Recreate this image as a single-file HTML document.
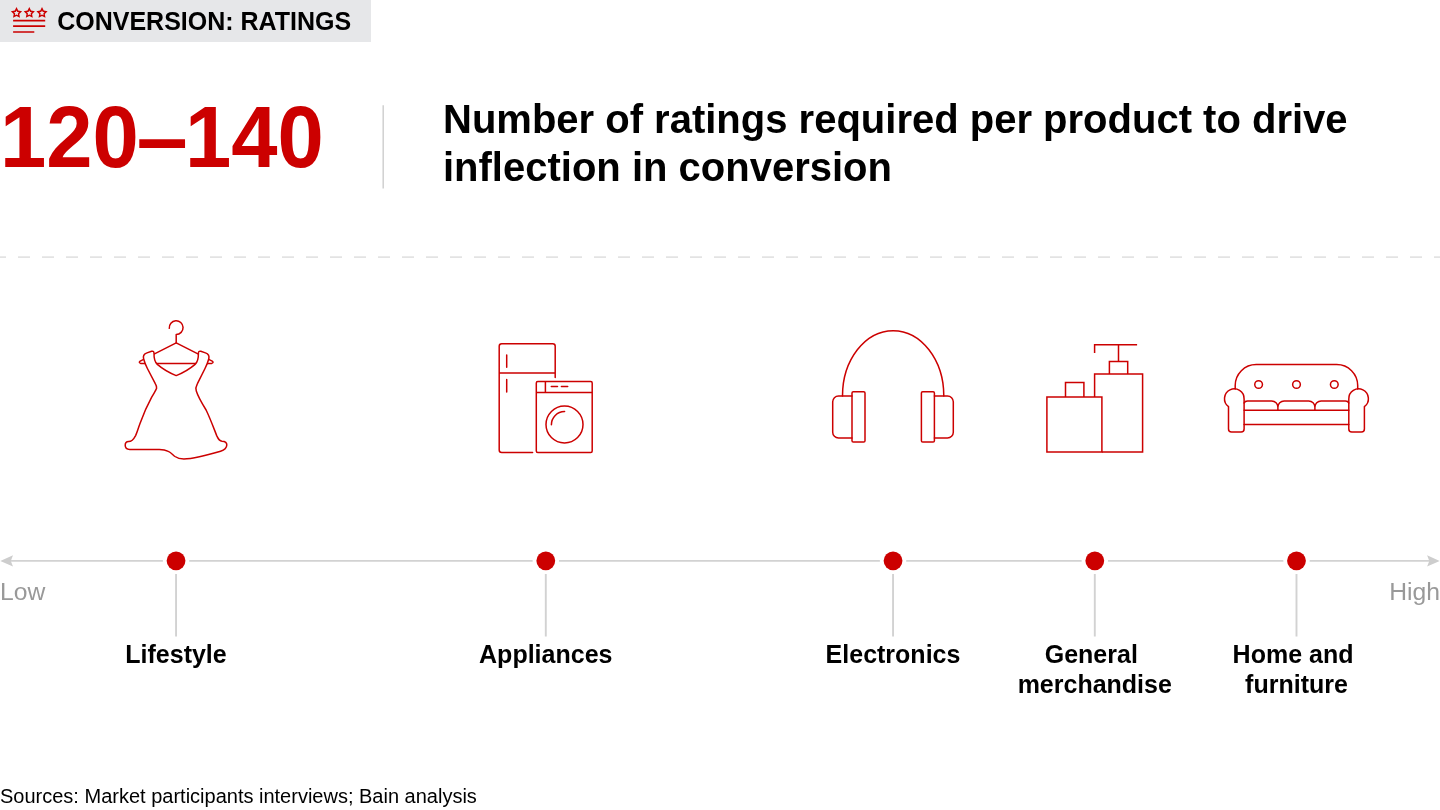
<!DOCTYPE html>
<html lang="en">
<head>
<meta charset="utf-8">
<title>Conversion: Ratings</title>
<style>
html,body{margin:0;padding:0;background:#fff;}
body{width:1440px;height:810px;position:relative;overflow:hidden;font-family:"Liberation Sans",sans-serif;color:#000;}
.abs{position:absolute;white-space:nowrap;}
#tag{left:0;top:0;width:370.8px;height:41.7px;background:#e6e7e9;}
#tagtxt{left:57.2px;top:6px;font-size:25px;line-height:30px;font-weight:bold;transform:scaleY(1.04);transform-origin:0 23.8px;}
#big{left:0px;top:90px;font-size:83.2px;line-height:98px;font-weight:bold;color:#cc0000;transform:scaleY(1.04);transform-origin:0 79.2px;}
.title{left:443px;font-size:40px;line-height:48px;font-weight:bold;}
#big .dash{display:inline-block;transform:scaleX(1.11);}
.lab{font-size:25px;line-height:30px;font-weight:bold;text-align:center;transform:translateX(-50%);white-space:pre;}
.ax{font-size:24.7px;line-height:28px;color:#999;}
#src{left:0;top:784.1px;font-size:20px;line-height:24px;}
svg{position:absolute;left:0;top:0;}
</style>
</head>
<body>
<div id="tag" class="abs"></div>
<div id="tagtxt" class="abs">CONVERSION: RATINGS</div>
<div id="big" class="abs">120<span class="dash">–</span>140</div>
<div class="abs title" style="top:94.9px;">Number of ratings required per product to drive</div>
<div class="abs title" style="top:142.8px;">inflection in conversion</div>

<svg width="1440" height="810" viewBox="0 0 1440 810">
  <!-- tag icon -->
  <g id="flag">
    <path fill="#cc0000" fill-rule="evenodd" d="M16.50 7.10 L18.23 10.61 L22.11 11.18 L19.31 13.91 L19.97 17.77 L16.50 15.95 L13.03 17.77 L13.69 13.91 L10.89 11.18 L14.77 10.61 Z M15.71 12.01 L13.93 12.27 L15.22 13.52 L14.91 15.28 L16.50 14.45 L18.09 15.28 L17.78 13.52 L19.07 12.27 L17.29 12.01 L16.50 10.40 Z M29.30 7.10 L31.03 10.61 L34.91 11.18 L32.11 13.91 L32.77 17.77 L29.30 15.95 L25.83 17.77 L26.49 13.91 L23.69 11.18 L27.57 10.61 Z M28.51 12.01 L26.73 12.27 L28.02 13.52 L27.71 15.28 L29.30 14.45 L30.89 15.28 L30.58 13.52 L31.87 12.27 L30.09 12.01 L29.30 10.40 Z M42.00 7.10 L43.73 10.61 L47.61 11.18 L44.81 13.91 L45.47 17.77 L42.00 15.95 L38.53 17.77 L39.19 13.91 L36.39 11.18 L40.27 10.61 Z M41.21 12.01 L39.43 12.27 L40.72 13.52 L40.41 15.28 L42.00 14.45 L43.59 15.28 L43.28 13.52 L44.57 12.27 L42.79 12.01 L42.00 10.40 Z"/>
    <path fill="none" stroke="#cc0000" stroke-width="1.65" d="M13.1 20.6 H45.2 M13.1 26.1 H45.2 M13.1 32 H34.3"/>
  </g>
  <!-- divider lines -->
  <line x1="383.2" y1="105.3" x2="383.2" y2="188.6" stroke="#d0d0d0" stroke-width="1.5"/>
  <line x1="0" y1="257.1" x2="1440" y2="257.1" stroke="#e3e3e3" stroke-width="1.9" stroke-dasharray="12 12" stroke-dashoffset="6"/>
  <!-- axis -->
  <g stroke="#d2d2d2" stroke-width="1.9" fill="none">
    <line x1="8" y1="560.9" x2="1432" y2="560.9"/>
    <path d="M176.05 574 V636.4 M545.8 574 V636.4 M893.05 574 V636.4 M1094.8 574 V636.4 M1296.5 574 V636.4"/>
  </g>
  <g fill="#cdcdcd">
    <path d="M0.3 560.9 L13 555.3 L10.8 560.9 L13 566.5 Z"/>
    <path d="M1439.7 560.9 L1427.1 555.3 L1429.3 560.9 L1427.1 566.5 Z"/>
  </g>
  <g fill="#fff">
    <circle cx="176.05" cy="560.8" r="13.2"/>
    <circle cx="545.8" cy="560.8" r="13.2"/>
    <circle cx="893.05" cy="560.8" r="13.2"/>
    <circle cx="1094.8" cy="560.8" r="13.2"/>
    <circle cx="1296.5" cy="560.8" r="13.2"/>
  </g>
  <g fill="#cc0000">
    <circle cx="176.05" cy="560.8" r="9.4"/>
    <circle cx="545.8" cy="560.8" r="9.4"/>
    <circle cx="893.05" cy="560.8" r="9.4"/>
    <circle cx="1094.8" cy="560.8" r="9.4"/>
    <circle cx="1296.5" cy="560.8" r="9.4"/>
  </g>
  <!-- ICONS -->
  <g id="icons" fill="none" stroke="#cc0000" stroke-width="1.5" stroke-linecap="round" stroke-linejoin="round">
    <!-- dress -->
    <g>
      <path d="M169.3 328.3 A6.9 6.9 0 1 1 176.2 334.5 V342.9"/>
      <path d="M176.2 342.9 L140.2 361.2 Q138.3 362.6 140.6 363.4 L211.8 363.4 Q214.1 362.6 212.2 361.2 Z"/>
      <path fill="#fff" d="M143.6 358.8 C142.8 355.6 144.2 353.9 147 352.9 L151.6 351.3 C153.3 350.8 154 351.6 154 353.3 C153.9 358 154.5 361.8 157.3 364.4 C162.5 368.8 170 373.2 176.2 375.6 C182.4 373.2 189.9 368.8 195.1 364.4 C197.9 361.8 198.5 358 198.4 353.3 C198.4 351.6 199.1 350.8 200.8 351.3 L205.4 352.9 C208.2 353.9 209.6 355.6 208.8 358.8 C207.9 362.5 206.5 365.5 205 368.5 L197.3 383.8 C196 386.2 195.5 388.5 196.3 391 C198 396.5 203 405 206.1 410 C210 418 213.5 427.5 216.7 435.6 C218.3 439.3 219.5 441 222 441.2 C225.5 441.3 226.9 442.8 226.8 445 C226.6 448.5 224.5 450 220.6 451.2 C211 454 204 455.8 199.4 456.8 C193 458.2 188.5 459 183.9 459 C179.5 459 177.3 458.2 175 456.5 C172.2 454.3 171 452.6 168.3 451.4 C165.5 450 163 449.6 159.4 449.6 L129.8 449.6 C126.5 449.4 125.2 447.5 125.2 445.3 C125.2 442.9 126.6 441.7 128.6 441.6 C131.5 441.5 133 440.5 135.6 435.6 C137.5 431.5 137.8 429.5 140 423.5 C144 412.5 148 404 151.7 397.2 C154 393 155.8 390.5 156.6 388.3 C157 386.6 156.4 385.5 155.4 383.8 L147.4 368.5 C145.9 365.5 144.5 362.5 143.6 358.8 Z"/>
    </g>
    <!-- appliances -->
    <g>
      <path d="M532.6 452.4 H501.7 Q499.2 452.4 499.2 449.9 V346.2 Q499.2 343.7 501.7 343.7 H552.7 Q555.2 343.7 555.2 346.2 V377.4 M499.2 373.1 H555.2 M506.7 354.9 V367.2 M506.7 379.5 V391.9"/>
      <path d="M537.8 381.5 H590.7 Q592.2 381.5 592.2 383 V450.9 Q592.2 452.4 590.7 452.4 H537.8 Q536.3 452.4 536.3 450.9 V383 Q536.3 381.5 537.8 381.5 Z M536.3 392.6 H592.2 M545.4 381.5 V392.6 M551.3 386.6 H557.5 M561.4 386.6 H567.7"/>
      <circle cx="564.5" cy="424.5" r="18.5"/>
      <path d="M551.4 424.8 A13.1 13.1 0 0 1 564.6 411.6"/>
    </g>
    <!-- headphones -->
    <g>
      <path d="M842.5 396 A50.65 65.3 0 0 1 943.8 396"/>
      <path d="M852 396 H838.5 A5.8 5.8 0 0 0 832.7 401.8 V432.2 A5.8 5.8 0 0 0 838.5 438 H852"/>
      <rect x="852" y="391.8" width="13" height="50.3" rx="1.3"/>
      <path d="M934.4 396 H947.5 A5.8 5.8 0 0 1 953.3 401.8 V432.2 A5.8 5.8 0 0 1 947.5 438 H934.4"/>
      <rect x="921.4" y="391.8" width="13" height="50.3" rx="1.3"/>
    </g>
    <!-- bottles -->
    <g stroke-linecap="butt" stroke-linejoin="miter">
      <path d="M1046.9 397 H1101.9 V451.9 H1046.9 Z M1065.5 397 V382.5 H1083.9 V397"/>
      <path d="M1094.6 397 V373.9 H1142.6 V451.9 H1101.9 M1109.4 373.9 V361.5 H1127.7 V373.9 M1118.5 361.5 V344.7 M1094.6 353 V344.7 H1137.1"/>
    </g>
    <!-- sofa -->
    <g>
      <path d="M1235.2 389.1 V385.6 A21 21 0 0 1 1256.2 364.6 H1336.7 A21 21 0 0 1 1357.7 385.6 V389.1"/>
      <circle cx="1258.6" cy="384.5" r="3.85"/>
      <circle cx="1296.5" cy="384.5" r="3.85"/>
      <circle cx="1334.3" cy="384.5" r="3.85"/>
      <path d="M1228.5 406.6 A9.8 9.8 0 1 1 1244.1 398.9 V429 Q1244.1 432 1241.1 432 H1231.5 Q1228.5 432 1228.5 429 Z"/>
      <path d="M1364.4 406.6 A9.8 9.8 0 1 0 1348.8 398.9 V429 Q1348.8 432 1351.8 432 H1361.4 Q1364.4 432 1364.4 429 Z"/>
      <path d="M1244.1 410.2 H1348.8 M1244.1 424.4 H1348.8"/>
      <path d="M1244.1 403 Q1244.9 401 1247.5 401 H1271.7 A6.2 6.2 0 0 1 1277.9 407.2 V410.2 M1277.9 407.2 A6.2 6.2 0 0 1 1284.1 401 H1308.7 A6.2 6.2 0 0 1 1314.9 407.2 V410.2 M1314.9 407.2 A6.2 6.2 0 0 1 1321.1 401 H1345.4 Q1348 401 1348.8 403"/>
    </g>
  </g>
</svg>

<div class="abs ax" style="left:0;top:577.8px;">Low</div>
<div class="abs ax" style="right:0;top:577.8px;">High</div>

<div class="abs lab" style="left:176px;top:639px;">Lifestyle</div>
<div class="abs lab" style="left:545.75px;top:639px;">Appliances</div>
<div class="abs lab" style="left:893px;top:639px;">Electronics</div>
<div class="abs lab" style="left:1094.75px;top:639px;">General 
merchandise</div>
<div class="abs lab" style="left:1296.5px;top:639px;">Home and 
furniture</div>

<div id="src" class="abs">Sources: Market participants interviews; Bain analysis</div>
</body>
</html>
